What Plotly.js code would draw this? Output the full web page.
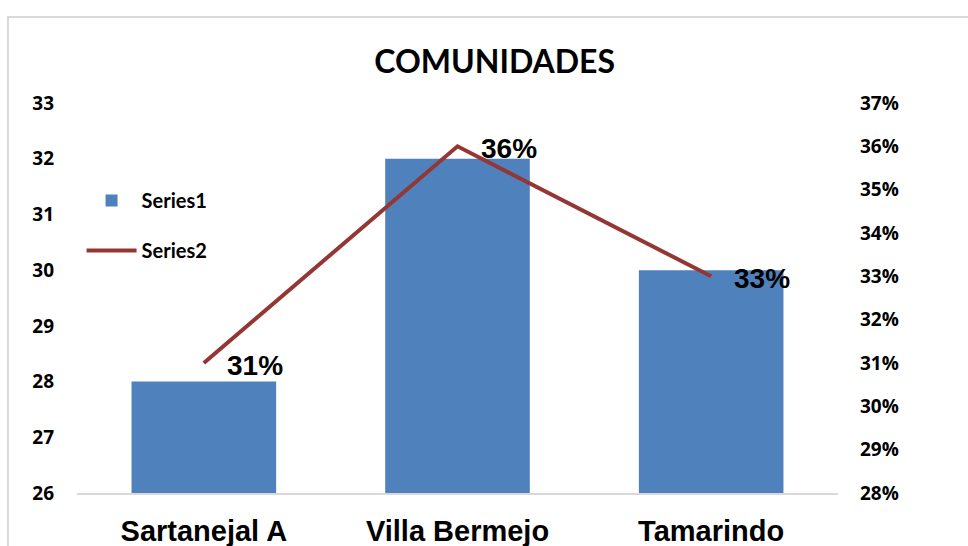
<!DOCTYPE html>
<html>
<head>
<meta charset="utf-8">
<script src="https://cdn.plot.ly/plotly-3.0.1.min.js"></script>
<style>html,body{margin:0;padding:0;background:#fff;}#chart{width:968px;height:546px;}</style>
</head>
<body>
<div id="chart"></div>
<script>
const categories = ['Sartanejal A', 'Villa Bermejo', 'Tamarindo'];
const series1 = [28, 32, 30];
const series2 = [0.31, 0.36, 0.33];
const series2Labels = ['31%', '36%', '33%'];
const leftTicks = [26, 27, 28, 29, 30, 31, 32, 33];
const rightTicks = [0.28, 0.29, 0.30, 0.31, 0.32, 0.33, 0.34, 0.35, 0.36, 0.37];
const rightTickLabels = ['28%', '29%', '30%', '31%', '32%', '33%', '34%', '35%', '36%', '37%'];

const calibri = 'Lato';
const tickFamily = '"Open Sans"';
const arial = '"Liberation Sans", Arial, sans-serif';

const traces = [
  {
    type: 'bar', name: 'Series1', x: categories, y: series1,
    marker: {color: '#4F81BD'}, legendgroup: 'a', hoverinfo: 'none'
  },
  {
    type: 'scatter', mode: 'lines', name: 'Series2', x: categories, y: series2,
    yaxis: 'y2', line: {color: '#943634', width: 4}, legendgroup: 'b', hoverinfo: 'none'
  }
];

const annotations = categories.map((c, i) => ({
  x: c, y: series2[i], xref: 'x', yref: 'y2', text: series2Labels[i],
  showarrow: false, xanchor: 'left', yanchor: 'middle', xshift: 21, yshift: -2,
  font: {family: arial, size: 28, color: '#000', weight: 'bold'}
}));

const tickFont = {family: tickFamily, size: 19, color: '#000', weight: 'bold'};

const layout = {
  width: 968, height: 546,
  margin: {l: 77, r: 130, t: 103, b: 53, pad: 0},
  paper_bgcolor: '#fff', plot_bgcolor: '#fff',
  title: {
    text: 'COMUNIDADES', x: 0.511, xref: 'container', xanchor: 'center',
    y: 0.886, yref: 'container', yanchor: 'middle',
    font: {family: calibri, size: 32, color: '#000', weight: 'bold'}
  },
  bargap: 0.43,
  xaxis: {
    type: 'category', showgrid: false, showline: true, linecolor: '#D9D9D9', linewidth: 2,
    ticks: '', ticklabelstandoff: 11,
    tickfont: {family: arial, size: 29, color: '#000', weight: 'bold'}
  },
  yaxis: {
    range: [26, 33], tickvals: leftTicks, ticktext: leftTicks.map(v => '<b>' + v + '</b>'),
    showgrid: false, zeroline: false, showline: false,
    ticks: '', ticklabelstandoff: 22,
    tickfont: tickFont
  },
  yaxis2: {
    range: [0.28, 0.37], tickvals: rightTicks, ticktext: rightTickLabels.map(v => '<b>' + v + '</b>'),
    overlaying: 'y', side: 'right',
    showgrid: false, zeroline: false, showline: false, ticks: '', ticklabelstandoff: 21,
    tickfont: tickFont
  },
  showlegend: true,
  legend: {
    x: 0.006, xanchor: 'left', y: 0.80, yanchor: 'top', traceorder: 'grouped', tracegroupgap: 21,
    bgcolor: 'rgba(0,0,0,0)', itemwidth: 50,
    font: {family: calibri, size: 20, color: '#000', weight: 'bold'}
  },
  annotations: annotations,
  shapes: [{
    type: 'rect', xref: 'paper', yref: 'paper', x0: -0.0907, x1: 1.4, y0: -0.5, y1: 1.2205,
    line: {color: '#D9D9D9', width: 2}, fillcolor: 'rgba(0,0,0,0)', layer: 'below'
  }]
};

Plotly.newPlot('chart', traces, layout, {displayModeBar: false, staticPlot: true});
</script>
</body>
</html>
